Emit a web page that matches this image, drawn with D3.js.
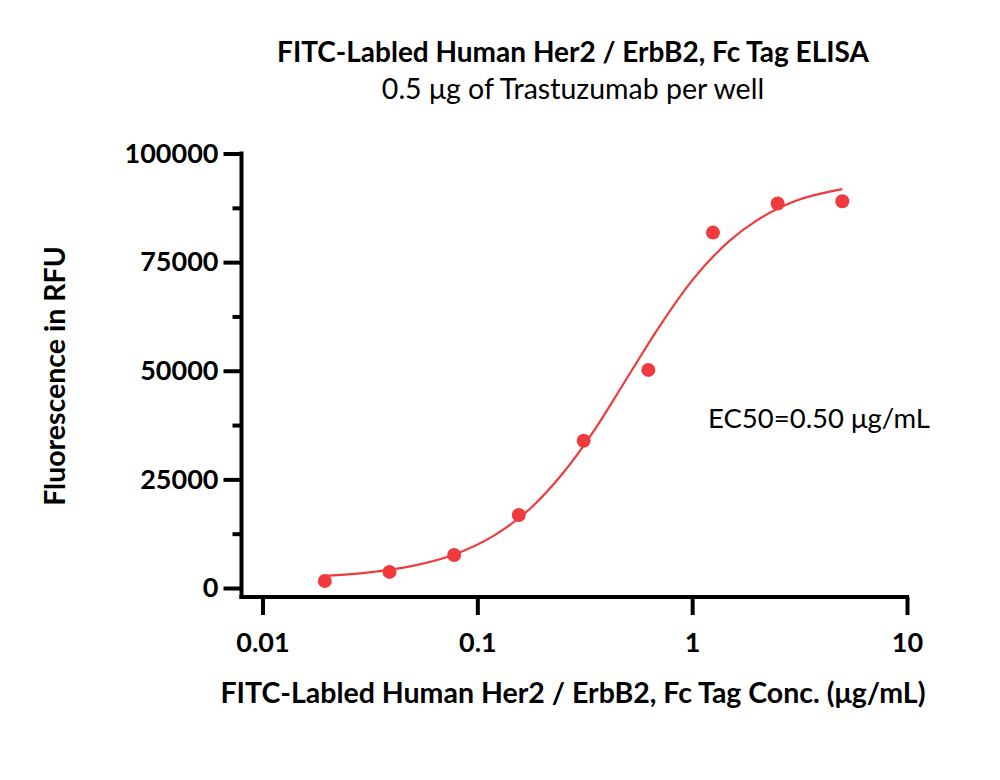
<html>
<head>
<style>
  body { margin: 0; background: #fff; }
  text { font-family: Lato, "Open Sans", sans-serif; fill: #000; }
  .axis path, .axis line { stroke: #000; stroke-width: 4; }
  .axis text { font-size: 27px; font-weight: bold; }
</style>
</head>
<body>
<svg id="chart" width="1000" height="780"></svg>
<script src="https://d3js.org/d3.v7.min.js"></script>
<script>
// measured points (concentration in ug/mL, RFU)
const conc = [0.0195, 0.039, 0.078, 0.156, 0.3125, 0.625, 1.25, 2.5, 5]
const rfu  = [1600, 3700, 7600, 16800, 33900, 50200, 81800, 88500, 89000]

// fitted curve
const fitConc = [0.0195, 0.03, 0.05, 0.08, 0.12, 0.18, 0.25, 0.35, 0.5, 0.7, 1.0, 1.5, 2.0, 3.0, 5.0]
const fitRfu  = [2800, 3500, 5100, 7900, 12100, 18700, 26400, 36300, 48500, 60000, 70800, 80000, 84600, 89000, 91800]

const xTicks = [0.01, 0.1, 1, 10]
const xTickLabels = ["0.01", "0.1", "1", "10"]
const yTicks = [0, 25000, 50000, 75000, 100000]
const yMinorTicks = [12500, 37500, 62500, 87500]

const svg = d3.select("#chart")
const red = "#ef3b3e"

let x = d3.scaleLog().domain([0.01, 10]).range([262.5, 907])
let y = d3.scaleLinear().domain([0, 100000]).range([588, 153.5])

// x axis
let xAxis = svg.append("g")
  .attr("class", "axis")
  .attr("transform", "translate(0,597)")
  .call(d3.axisBottom(x).tickValues(xTicks)
        .tickFormat((d, i) => xTickLabels[i]).tickSize(18).tickSizeOuter(0).tickPadding(18))
xAxis.select(".domain").attr("d", "M239.5,0H909")

// y axis
let yAxis = svg.append("g")
  .attr("class", "axis")
  .attr("transform", "translate(241.5,0)")
  .call(d3.axisLeft(y).tickValues(yTicks).tickFormat(d3.format("d"))
        .tickSize(18).tickSizeOuter(0).tickPadding(5))
yAxis.select(".domain").attr("d", "M0,151.5V599")
svg.append("g")
  .attr("class", "axis")
  .attr("transform", "translate(241.5,0)")
  .call(d3.axisLeft(y).tickValues(yMinorTicks).tickSize(9).tickFormat(""))
  .select(".domain").remove()

// fit curve
let line = d3.line()
  .x((d, i) => x(fitConc[i]))
  .y(d => y(d))
  .curve(d3.curveMonotoneX)
svg.append("path")
  .datum(fitRfu)
  .attr("d", line)
  .attr("fill", "none")
  .attr("stroke", red)
  .attr("stroke-width", 2.2)

// points
svg.append("g").selectAll("circle")
  .data(rfu)
  .join("circle")
  .attr("cx", (d, i) => x(conc[i]))
  .attr("cy", d => y(d))
  .attr("r", 7)
  .attr("fill", red)

// texts
svg.append("text")
  .attr("x", 573).attr("y", 62)
  .attr("text-anchor", "middle")
  .style("font-size", "28px").style("font-weight", "bold")
  .text("FITC-Labled Human Her2 / ErbB2, Fc Tag ELISA")
svg.append("text")
  .attr("x", 573).attr("y", 99)
  .attr("text-anchor", "middle")
  .style("font-size", "28.5px")
  .text("0.5 μg of Trastuzumab per well")
svg.append("text")
  .attr("x", 573).attr("y", 703)
  .attr("text-anchor", "middle")
  .style("font-size", "28.5px").style("font-weight", "bold")
  .text("FITC-Labled Human Her2 / ErbB2, Fc Tag Conc. (μg/mL)")
svg.append("text")
  .attr("transform", "translate(65,376) rotate(-90)")
  .attr("text-anchor", "middle")
  .style("font-size", "28.5px").style("font-weight", "bold")
  .text("Fluorescence in RFU")
svg.append("text")
  .attr("x", 708).attr("y", 428)
  .style("font-size", "27.5px")
  .text("EC50=0.50 μg/mL")
</script>
</body>
</html>
